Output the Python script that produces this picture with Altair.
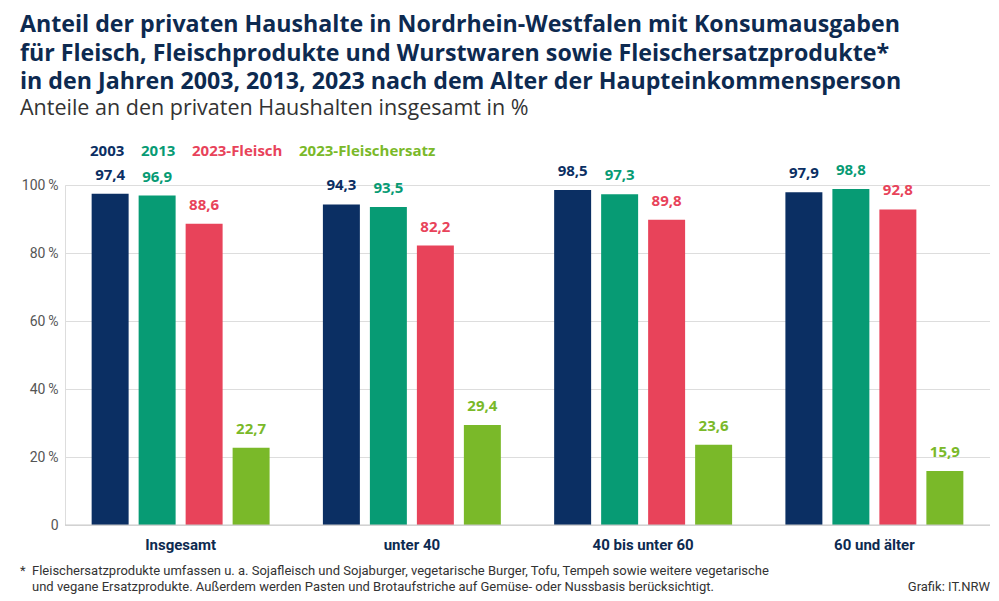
import altair as alt
import pandas as pd

categories = ["Insgesamt", "unter 40", "40 bis unter 60", "60 und älter"]
series = ["2003", "2013", "2023-Fleisch", "2023-Fleischersatz"]
colors = ["#0b2f63", "#079b74", "#e8435a", "#7ab929"]
values = {
    "2003": [97.4, 94.3, 98.5, 97.9],
    "2013": [96.9, 93.5, 97.3, 98.8],
    "2023-Fleisch": [88.6, 82.2, 89.8, 92.8],
    "2023-Fleischersatz": [22.7, 29.4, 23.6, 15.9],
}
y_ticks = [0, 20, 40, 60, 80, 100]

rows = []
for s in series:
    for c, v in zip(categories, values[s]):
        rows.append({"Gruppe": c, "Serie": s, "Wert": v})
df = pd.DataFrame(rows)

condensed = "Liberation Sans Narrow, Roboto, sans-serif"
title_color = "#0d2a50"

color_scale = alt.Scale(domain=series, range=colors)
legend_color_expr = (
    "datum.label == '2003' ? '#0b2f63' : datum.label == '2013' ? '#079b74' : "
    "datum.label == '2023-Fleisch' ? '#e8435a' : '#7ab929'"
)

base = alt.Chart(df).encode(
    x=alt.X(
        "Gruppe:N",
        sort=categories,
        scale=alt.Scale(paddingInner=0, paddingOuter=0),
        axis=alt.Axis(
            title=None, labelAngle=0, domain=False, ticks=False,
            labelFont=condensed, labelFontSize=15, labelFontWeight="bold",
            labelColor=title_color, labelPadding=12,
        ),
    ),
    xOffset=alt.XOffset(
        "Serie:N", sort=series,
        scale=alt.Scale(paddingInner=0.213, paddingOuter=0.567),
    ),
)

bars = base.mark_bar().encode(
    y=alt.Y(
        "Wert:Q",
        scale=alt.Scale(domain=[0, 100], nice=False),
        axis=alt.Axis(
            title=None, values=y_ticks, domain=False, ticks=False,
            labelExpr="datum.value == 0 ? '0' : datum.value + '\u2009%'",
            labelFont=condensed, labelFontSize=14, labelColor="#555555",
            labelPadding=7, gridColor="#dddddd",
        ),
    ),
    color=alt.Color(
        "Serie:N", sort=series, scale=color_scale,
        legend=alt.Legend(
            title=None, orient="none", legendX=26, legendY=-42,
            direction="horizontal", symbolSize=0, symbolStrokeWidth=0,
            symbolOpacity=0, labelOffset={"expr": "-16"}, columnPadding=16,
            labelFont="Open Sans", labelFontSize=15, labelFontWeight="bold",
            labelColor={"expr": legend_color_expr},
        ),
    ),
)

labels = base.mark_text(
    dy=-11, font="Open Sans", fontSize=15, fontWeight="bold", baseline="bottom"
).transform_calculate(
    label="replace(format(datum.Wert, '.1f'), '.', ',')"
).encode(
    y=alt.Y("Wert:Q"),
    text="label:N",
    color=alt.Color("Serie:N", sort=series, scale=color_scale, legend=None),
)

zero = alt.Chart(pd.DataFrame({"y": [0]})).mark_rule(color="#c8c8c8").encode(y="y:Q")

foot_df = pd.DataFrame({"t": [0]})
star = alt.Chart(foot_df).mark_text(
    text="*", align="left", baseline="alphabetic", font=condensed,
    fontSize=13, color="#333333",
).encode(x=alt.value(-45), y=alt.value(390))
foot = alt.Chart(foot_df).mark_text(
    text=[
        "Fleischersatzprodukte umfassen u. a. Sojafleisch und Sojaburger, vegetarische Burger, Tofu, Tempeh sowie weitere vegetarische",
        "und vegane Ersatzprodukte. Außerdem werden Pasten und Brotaufstriche auf Gemüse- oder Nussbasis berücksichtigt.",
    ],
    align="left", baseline="alphabetic", font=condensed, fontSize=13,
    lineHeight=16, color="#333333",
).encode(x=alt.value(-33), y=alt.value(390))
source = alt.Chart(foot_df).mark_text(
    text="Grafik: IT.NRW", align="right", baseline="alphabetic", font=condensed,
    fontSize=13, color="#333333",
).encode(x=alt.value(925), y=alt.value(406))

chart = alt.layer(bars, zero, labels, star, foot, source).properties(
    width=925,
    height=340,
    padding={"left": 57, "top": 177, "right": 0, "bottom": 69},
    autosize=alt.AutoSizeParams(type="none"),
    title=alt.TitleParams(
        text=[
            "Anteil der privaten Haushalte in Nordrhein-Westfalen mit Konsumausgaben",
            "für Fleisch, Fleischprodukte und Wurstwaren sowie Fleischersatzprodukte*",
            "in den Jahren 2003, 2013, 2023 nach dem Alter der Haupteinkommensperson",
        ],
        subtitle="Anteile an den privaten Haushalten insgesamt in %",
        anchor="start", frame="group", dx=-45, offset=23,
        font="Open Sans", fontSize=23.2, fontWeight="bold", color=title_color,
        lineHeight=28.5, subtitleFont="Open Sans", subtitleFontSize=21.5,
        subtitleColor="#333333", subtitlePadding=3, subtitleLineHeight=26,
    ),
).configure_view(stroke=None).configure(background="white")

chart.save("out.html", embed_options={"renderer": "svg", "actions": False})
